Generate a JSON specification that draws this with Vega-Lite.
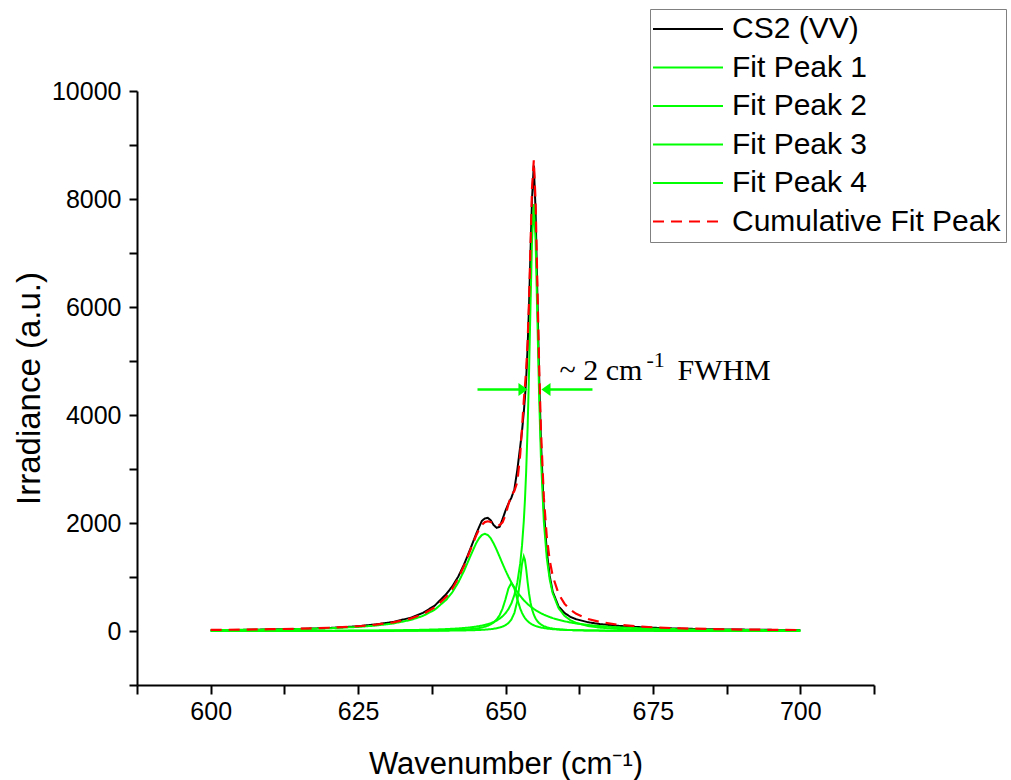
{
"$schema": "https://vega.github.io/schema/vega-lite/v6.json",
"width": 737, "height": 594,
"autosize": "none",
"padding": {"left": 137, "top": 91, "right": 137, "bottom": 95},
"background": "white",
"config": {
  "view": {"stroke": null},
  "axis": {"domainColor": "black", "domainWidth": 2, "tickColor": "black", "tickWidth": 2, "labelColor": "black", "titleColor": "black", "labelFont": "Liberation Sans", "titleFont": "Liberation Sans", "titleFontWeight": "normal", "grid": false, "labelFontSize": 25, "titleFontSize": 31, "labelOverlap": false}
},
"layer": [
  {
    "data": {"values": [
      {"x":600,"CS2 (VV)":14,"Fit Peak 1":16.7,"Fit Peak 2":0.7,"Fit Peak 3":0.4,"Fit Peak 4":2.6,"Cumulative Fit Peak":20},
      {"x":605,"CS2 (VV)":20,"Fit Peak 1":20.9,"Fit Peak 2":0.8,"Fit Peak 3":0.5,"Fit Peak 4":3.2,"Cumulative Fit Peak":25},
      {"x":610,"CS2 (VV)":28,"Fit Peak 1":26.9,"Fit Peak 2":1.0,"Fit Peak 3":0.6,"Fit Peak 4":3.9,"Cumulative Fit Peak":33},
      {"x":615,"CS2 (VV)":38,"Fit Peak 1":36.0,"Fit Peak 2":1.4,"Fit Peak 3":0.8,"Fit Peak 4":5.0,"Cumulative Fit Peak":43},
      {"x":620,"CS2 (VV)":55,"Fit Peak 1":50.4,"Fit Peak 2":1.8,"Fit Peak 3":1.0,"Fit Peak 4":6.5,"Cumulative Fit Peak":60},
      {"x":625,"CS2 (VV)":88,"Fit Peak 1":75.5,"Fit Peak 2":2.6,"Fit Peak 3":1.4,"Fit Peak 4":8.9,"Cumulative Fit Peak":88},
      {"x":628,"CS2 (VV)":122,"Fit Peak 1":100.6,"Fit Peak 2":3.3,"Fit Peak 3":1.8,"Fit Peak 4":11.0,"Cumulative Fit Peak":117},
      {"x":631,"CS2 (VV)":168,"Fit Peak 1":140.0,"Fit Peak 2":4.3,"Fit Peak 3":2.3,"Fit Peak 4":13.9,"Cumulative Fit Peak":161},
      {"x":634,"CS2 (VV)":248,"Fit Peak 1":206.5,"Fit Peak 2":6.0,"Fit Peak 3":3.1,"Fit Peak 4":18.2,"Cumulative Fit Peak":234},
      {"x":636,"CS2 (VV)":335,"Fit Peak 1":279.3,"Fit Peak 2":7.7,"Fit Peak 3":3.8,"Fit Peak 4":22.3,"Cumulative Fit Peak":313},
      {"x":638,"CS2 (VV)":470,"Fit Peak 1":394.0,"Fit Peak 2":10.2,"Fit Peak 3":4.9,"Fit Peak 4":27.9,"Cumulative Fit Peak":437},
      {"x":640,"CS2 (VV)":690,"Fit Peak 1":583.3,"Fit Peak 2":14.2,"Fit Peak 3":6.5,"Fit Peak 4":35.9,"Cumulative Fit Peak":640},
      {"x":641,"CS2 (VV)":830,"Fit Peak 1":721.7,"Fit Peak 2":17.1,"Fit Peak 3":7.6,"Fit Peak 4":41.3,"Cumulative Fit Peak":788},
      {"x":642,"CS2 (VV)":1010,"Fit Peak 1":900,"Fit Peak 2":21.0,"Fit Peak 3":9.0,"Fit Peak 4":47.9,"Cumulative Fit Peak":978},
      {"x":643,"CS2 (VV)":1240,"Fit Peak 1":1121.5,"Fit Peak 2":26.4,"Fit Peak 3":10.9,"Fit Peak 4":56.3,"Cumulative Fit Peak":1215},
      {"x":644,"CS2 (VV)":1510,"Fit Peak 1":1375.5,"Fit Peak 2":34.2,"Fit Peak 3":13.4,"Fit Peak 4":67.2,"Cumulative Fit Peak":1490},
      {"x":645,"CS2 (VV)":1790,"Fit Peak 1":1620,"Fit Peak 2":45.9,"Fit Peak 3":16.8,"Fit Peak 4":81.4,"Cumulative Fit Peak":1764},
      {"x":645.5,"CS2 (VV)":1920,"Fit Peak 1":1715.3,"Fit Peak 2":54.2,"Fit Peak 3":19.1,"Fit Peak 4":90.3,"Cumulative Fit Peak":1879},
      {"x":646,"CS2 (VV)":2040,"Fit Peak 1":1778,"Fit Peak 2":64.7,"Fit Peak 3":21.8,"Fit Peak 4":100.7,"Cumulative Fit Peak":1965},
      {"x":646.5,"CS2 (VV)":2085,"Fit Peak 1":1800,"Fit Peak 2":78.5,"Fit Peak 3":25.2,"Fit Peak 4":113.0,"Cumulative Fit Peak":2017},
      {"x":647,"CS2 (VV)":2095,"Fit Peak 1":1778,"Fit Peak 2":97.1,"Fit Peak 3":29.4,"Fit Peak 4":127.7,"Cumulative Fit Peak":2032},
      {"x":647.5,"CS2 (VV)":2050,"Fit Peak 1":1715.3,"Fit Peak 2":122.8,"Fit Peak 3":34.7,"Fit Peak 4":145.5,"Cumulative Fit Peak":2018},
      {"x":648,"CS2 (VV)":1960,"Fit Peak 1":1620,"Fit Peak 2":159.2,"Fit Peak 3":41.7,"Fit Peak 4":167.2,"Cumulative Fit Peak":1988},
      {"x":648.5,"CS2 (VV)":1910,"Fit Peak 1":1503.1,"Fit Peak 2":212.5,"Fit Peak 3":50.9,"Fit Peak 4":194.2,"Cumulative Fit Peak":1961},
      {"x":649,"CS2 (VV)":1930,"Fit Peak 1":1375.5,"Fit Peak 2":292.7,"Fit Peak 3":63.4,"Fit Peak 4":228.1,"Cumulative Fit Peak":1960},
      {"x":649.5,"CS2 (VV)":2070,"Fit Peak 1":1246.2,"Fit Peak 2":414.3,"Fit Peak 3":81.2,"Fit Peak 4":271.6,"Cumulative Fit Peak":2013},
      {"x":650,"CS2 (VV)":2230,"Fit Peak 1":1121.5,"Fit Peak 2":589.3,"Fit Peak 3":107.3,"Fit Peak 4":328.6,"Cumulative Fit Peak":2147},
      {"x":650.5,"CS2 (VV)":2360,"Fit Peak 1":1005.6,"Fit Peak 2":789.3,"Fit Peak 3":147.7,"Fit Peak 4":405.3,"Cumulative Fit Peak":2348},
      {"x":651,"CS2 (VV)":2470,"Fit Peak 1":900,"Fit Peak 2":890,"Fit Peak 3":214.2,"Fit Peak 4":511.7,"Cumulative Fit Peak":2516},
      {"x":651.5,"CS2 (VV)":2620,"Fit Peak 1":805.5,"Fit Peak 2":789.3,"Fit Peak 3":331.7,"Fit Peak 4":664.4,"Cumulative Fit Peak":2591},
      {"x":652,"CS2 (VV)":2980,"Fit Peak 1":721.7,"Fit Peak 2":589.3,"Fit Peak 3":553.3,"Fit Peak 4":893.7,"Cumulative Fit Peak":2758},
      {"x":652.5,"CS2 (VV)":3420,"Fit Peak 1":648,"Fit Peak 2":414.3,"Fit Peak 3":955.4,"Fit Peak 4":1256.0,"Cumulative Fit Peak":3274},
      {"x":652.8,"CS2 (VV)":3700,"Fit Peak 1":608.1,"Fit Peak 2":335.5,"Fit Peak 3":1242,"Fit Peak 4":1580,"Cumulative Fit Peak":3766},
      {"x":653.1,"CS2 (VV)":4050,"Fit Peak 1":571.2,"Fit Peak 2":273.8,"Fit Peak 3":1380,"Fit Peak 4":2030.8,"Cumulative Fit Peak":4256},
      {"x":653.3,"CS2 (VV)":4330,"Fit Peak 1":548.3,"Fit Peak 2":240.6,"Fit Peak 3":1315,"Fit Peak 4":2430.8,"Cumulative Fit Peak":4535},
      {"x":653.5,"CS2 (VV)":4650,"Fit Peak 1":526.3,"Fit Peak 2":212.5,"Fit Peak 3":1152.4,"Fit Peak 4":2936.8,"Cumulative Fit Peak":4828},
      {"x":653.75,"CS2 (VV)":5250,"Fit Peak 1":500.6,"Fit Peak 2":183.2,"Fit Peak 3":906.9,"Fit Peak 4":3757.4,"Cumulative Fit Peak":5348},
      {"x":654,"CS2 (VV)":6050,"Fit Peak 1":476.4,"Fit Peak 2":159.2,"Fit Peak 3":690,"Fit Peak 4":4817.1,"Cumulative Fit Peak":6143},
      {"x":654.25,"CS2 (VV)":7050,"Fit Peak 1":453.9,"Fit Peak 2":139.3,"Fit Peak 3":524.1,"Fit Peak 4":6065.3,"Cumulative Fit Peak":7183},
      {"x":654.5,"CS2 (VV)":8000,"Fit Peak 1":432.7,"Fit Peak 2":122.8,"Fit Peak 3":403.5,"Fit Peak 4":7247.7,"Cumulative Fit Peak":8207},
      {"x":654.8,"CS2 (VV)":8620,"Fit Peak 1":408.9,"Fit Peak 2":106.4,"Fit Peak 3":302.1,"Fit Peak 4":7900,"Cumulative Fit Peak":8717},
      {"x":655.1,"CS2 (VV)":7800,"Fit Peak 1":386.9,"Fit Peak 2":92.9,"Fit Peak 3":232.4,"Fit Peak 4":7247.7,"Cumulative Fit Peak":7960},
      {"x":655.4,"CS2 (VV)":6250,"Fit Peak 1":366.5,"Fit Peak 2":81.8,"Fit Peak 3":183.2,"Fit Peak 4":5808.8,"Cumulative Fit Peak":6440},
      {"x":655.7,"CS2 (VV)":4750,"Fit Peak 1":347.5,"Fit Peak 2":72.5,"Fit Peak 3":147.7,"Fit Peak 4":4364.6,"Cumulative Fit Peak":4932},
      {"x":656,"CS2 (VV)":3550,"Fit Peak 1":329.9,"Fit Peak 2":64.7,"Fit Peak 3":121.3,"Fit Peak 4":3237.7,"Cumulative Fit Peak":3754},
      {"x":656.5,"CS2 (VV)":2250,"Fit Peak 1":303.1,"Fit Peak 2":54.2,"Fit Peak 3":90.4,"Fit Peak 4":2030.8,"Cumulative Fit Peak":2479},
      {"x":657,"CS2 (VV)":1480,"Fit Peak 1":279.3,"Fit Peak 2":45.9,"Fit Peak 3":69.8,"Fit Peak 4":1352.7,"Cumulative Fit Peak":1748},
      {"x":657.5,"CS2 (VV)":1020,"Fit Peak 1":258.1,"Fit Peak 2":39.5,"Fit Peak 3":55.4,"Fit Peak 4":953.0,"Cumulative Fit Peak":1306},
      {"x":658,"CS2 (VV)":730,"Fit Peak 1":239,"Fit Peak 2":34.2,"Fit Peak 3":45.0,"Fit Peak 4":702.8,"Cumulative Fit Peak":1021},
      {"x":659,"CS2 (VV)":455,"Fit Peak 1":206.5,"Fit Peak 2":26.4,"Fit Peak 3":31.4,"Fit Peak 4":423.8,"Cumulative Fit Peak":688},
      {"x":660,"CS2 (VV)":335,"Fit Peak 1":180,"Fit Peak 2":21.0,"Fit Peak 3":23.1,"Fit Peak 4":281.7,"Cumulative Fit Peak":506},
      {"x":661,"CS2 (VV)":262,"Fit Peak 1":158.2,"Fit Peak 2":17.1,"Fit Peak 3":17.7,"Fit Peak 4":200.3,"Cumulative Fit Peak":393},
      {"x":662,"CS2 (VV)":218,"Fit Peak 1":140,"Fit Peak 2":14.2,"Fit Peak 3":14.0,"Fit Peak 4":149.5,"Cumulative Fit Peak":318},
      {"x":664,"CS2 (VV)":162,"Fit Peak 1":111.7,"Fit Peak 2":10.2,"Fit Peak 3":9.3,"Fit Peak 4":92.2,"Cumulative Fit Peak":223},
      {"x":666,"CS2 (VV)":128,"Fit Peak 1":91,"Fit Peak 2":7.7,"Fit Peak 3":6.7,"Fit Peak 4":62.5,"Cumulative Fit Peak":168},
      {"x":669,"CS2 (VV)":97,"Fit Peak 1":69.2,"Fit Peak 2":5.4,"Fit Peak 3":4.4,"Fit Peak 4":39.0,"Cumulative Fit Peak":118},
      {"x":672,"CS2 (VV)":76,"Fit Peak 1":54.4,"Fit Peak 2":3.9,"Fit Peak 3":3.1,"Fit Peak 4":26.6,"Cumulative Fit Peak":88},
      {"x":676,"CS2 (VV)":56,"Fit Peak 1":40.9,"Fit Peak 2":2.8,"Fit Peak 3":2.1,"Fit Peak 4":17.5,"Cumulative Fit Peak":63},
      {"x":680,"CS2 (VV)":43,"Fit Peak 1":31.9,"Fit Peak 2":2.1,"Fit Peak 3":1.5,"Fit Peak 4":12.4,"Cumulative Fit Peak":48},
      {"x":685,"CS2 (VV)":33,"Fit Peak 1":24.3,"Fit Peak 2":1.5,"Fit Peak 3":1.1,"Fit Peak 4":8.7,"Cumulative Fit Peak":36},
      {"x":690,"CS2 (VV)":26,"Fit Peak 1":19.1,"Fit Peak 2":1.2,"Fit Peak 3":0.8,"Fit Peak 4":6.4,"Cumulative Fit Peak":27},
      {"x":695,"CS2 (VV)":21,"Fit Peak 1":15.4,"Fit Peak 2":0.9,"Fit Peak 3":0.6,"Fit Peak 4":4.9,"Cumulative Fit Peak":22},
      {"x":700,"CS2 (VV)":17,"Fit Peak 1":12.6,"Fit Peak 2":0.7,"Fit Peak 3":0.5,"Fit Peak 4":3.9,"Cumulative Fit Peak":18}
    ]},
    "transform": [{"fold": ["CS2 (VV)", "Fit Peak 1", "Fit Peak 2", "Fit Peak 3", "Fit Peak 4", "Cumulative Fit Peak"], "as": ["series", "value"]}],
    "encoding": {
      "x": {"field": "x", "type": "quantitative", "title": "Wavenumber (cm⁻¹)",
        "scale": {"domain": [587.5, 712.5], "nice": false, "zero": false},
        "axis": {"values": [587.5, 600, 612.5, 625, 637.5, 650, 662.5, 675, 687.5, 700, 712.5], "labelExpr": "datum.value % 25 === 0 ? datum.label : ''", "format": "d", "tickSize": 9, "labelPadding": 5, "labelFlush": false, "titlePadding": 25}},
      "y": {"field": "value", "type": "quantitative", "title": "Irradiance (a.u.)",
        "scale": {"domain": [-1000, 10000], "nice": false, "zero": false},
        "axis": {"values": [-1000, 0, 1000, 2000, 3000, 4000, 5000, 6000, 7000, 8000, 9000, 10000], "labelExpr": "datum.value % 2000 === 0 ? datum.label : ''", "format": "d", "tickSize": 8, "labelPadding": 8, "titlePadding": 5, "titleFontSize": 33}},
      "color": {"field": "series", "type": "nominal",
        "scale": {"domain": ["CS2 (VV)", "Fit Peak 1", "Fit Peak 2", "Fit Peak 3", "Fit Peak 4", "Cumulative Fit Peak"], "range": ["#000000", "#00ff00", "#00ff00", "#00ff00", "#00ff00", "#ff0000"]},
        "legend": {"orient": "none", "legendX": 513, "legendY": -82, "title": null, "symbolType": "M-5,0H5", "symbolSize": 196, "symbolOffset": 18, "symbolStrokeWidth": 2, "labelFont": "Liberation Sans", "labelFontSize": 30, "labelColor": "black", "labelLimit": 400, "labelOffset": 29, "strokeColor": "#808080", "fillColor": "white", "padding": 5, "rowPadding": 8.5}},
      "strokeDash": {"field": "series", "type": "nominal",
        "scale": {"domain": ["CS2 (VV)", "Fit Peak 1", "Fit Peak 2", "Fit Peak 3", "Fit Peak 4", "Cumulative Fit Peak"], "range": [[1, 0], [1, 0], [1, 0], [1, 0], [1, 0], [11, 7]]},
        "legend": {"orient": "none", "legendX": 513, "legendY": -82, "title": null, "symbolType": "M-5,0H5", "symbolSize": 196, "symbolOffset": 18, "symbolStrokeWidth": 2, "labelFont": "Liberation Sans", "labelFontSize": 30, "labelColor": "black", "labelLimit": 400, "labelOffset": 29, "strokeColor": "#808080", "fillColor": "white", "padding": 5, "rowPadding": 8.5}}
    },
    "layer": [
      {"transform": [{"filter": {"field": "series", "equal": "CS2 (VV)"}}], "mark": {"type": "line", "strokeWidth": 2}},
      {"transform": [{"filter": {"field": "series", "oneOf": ["Fit Peak 1", "Fit Peak 2", "Fit Peak 3", "Fit Peak 4"]}}], "mark": {"type": "line", "strokeWidth": 2}},
      {"transform": [{"filter": {"field": "series", "equal": "Cumulative Fit Peak"}}], "mark": {"type": "line", "strokeWidth": 2.2}}
    ]
  },
  {
    "data": {"values": [{"x": 645.25, "x2": 652.9, "y": 4471}, {"x": 656.9, "x2": 664.75, "y": 4471}]},
    "mark": {"type": "rule", "color": "#00ff00", "strokeWidth": 2.5},
    "encoding": {
      "x": {"field": "x", "type": "quantitative", "title": "Wavenumber (cm⁻¹)", "scale": {"domain": [587.5, 712.5], "nice": false, "zero": false}},
      "x2": {"field": "x2"},
      "y": {"field": "y", "type": "quantitative", "title": "Irradiance (a.u.)", "scale": {"domain": [-1000, 10000], "nice": false, "zero": false}}
    }
  },
  {
    "data": {"values": [{"x": 652.97, "y": 4471, "side": "left"}, {"x": 656.86, "y": 4471, "side": "right"}]},
    "mark": {"type": "point", "filled": true, "color": "#00ff00", "size": 169, "opacity": 1},
    "encoding": {
      "x": {"field": "x", "type": "quantitative", "title": "Wavenumber (cm⁻¹)", "scale": {"domain": [587.5, 712.5], "nice": false, "zero": false}},
      "y": {"field": "y", "type": "quantitative", "title": "Irradiance (a.u.)", "scale": {"domain": [-1000, 10000], "nice": false, "zero": false}},
      "shape": {"field": "side", "type": "nominal", "scale": {"domain": ["left", "right"], "range": ["M-0.7,-1L0.7,0L-0.7,1Z", "M0.7,-1L-0.7,0L0.7,1Z"]}, "legend": null}
    }
  },
  {
    "data": {"values": [{"x": 659.15, "y": 4657}]},
    "encoding": {
      "x": {"field": "x", "type": "quantitative", "title": "Wavenumber (cm⁻¹)", "scale": {"domain": [587.5, 712.5], "nice": false, "zero": false}},
      "y": {"field": "y", "type": "quantitative", "title": "Irradiance (a.u.)", "scale": {"domain": [-1000, 10000], "nice": false, "zero": false}}
    },
    "layer": [
      {"mark": {"type": "text", "text": "~ 2 cm", "font": "Liberation Serif", "fontSize": 30, "align": "left", "baseline": "alphabetic", "color": "black"}},
      {"mark": {"type": "text", "text": "-1", "font": "Liberation Serif", "fontSize": 22, "align": "left", "baseline": "alphabetic", "color": "black", "dx": 87, "dy": -13}},
      {"mark": {"type": "text", "text": "FWHM", "font": "Liberation Serif", "fontSize": 30, "align": "left", "baseline": "alphabetic", "color": "black", "dx": 118}}
    ]
  }
]
}
